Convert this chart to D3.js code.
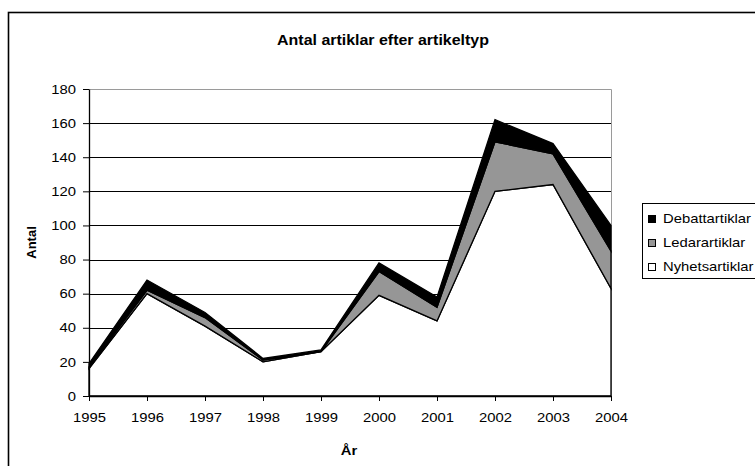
<!DOCTYPE html>
<html>
<head>
<meta charset="utf-8">
<script src="https://cdn.jsdelivr.net/npm/d3@7"></script>
<style>
  html, body { margin: 0; padding: 0; background: #fff; }
  svg { display: block; font-family: "Liberation Sans", Arial, sans-serif; }
</style>
</head>
<body>
<svg id="chart" width="755" height="466"></svg>
<script>
// Article counts per year, split by article type
const years = ["1995","1996","1997","1998","1999","2000","2001","2002","2003","2004"];
const nyhetsartiklar = [16, 60, 41, 20, 26, 59, 44, 120, 124, 63];
const ledarartiklar  = [1,  2,  5,  1,  0,  14, 8,  29,  18,  22];
const debattartiklar = [2,  6,  3,  1,  1,  5,  6,  13,  6,   15];
const yTicks = [0, 20, 40, 60, 80, 100, 120, 140, 160, 180];

const seriesNames = ["Nyhetsartiklar", "Ledarartiklar", "Debattartiklar"];
const seriesColors = { Nyhetsartiklar: "#ffffff", Ledarartiklar: "#969696", Debattartiklar: "#000000" };

// text is drawn slightly wide, like the rest of the chart
const SX = 1.14;

const rows = years.map((y, i) => ({
  year: y,
  Nyhetsartiklar: nyhetsartiklar[i],
  Ledarartiklar: ledarartiklar[i],
  Debattartiklar: debattartiklar[i]
}));

const svg = d3.select("#chart");

// outer chart frame
svg.append("rect")
  .attr("x", 8.5).attr("y", 12.5)
  .attr("width", 800).attr("height", 500)
  .attr("fill", "#fff").attr("stroke", "#000").attr("stroke-width", 1.6);

const plot = { left: 89, right: 611, top: 89, bottom: 396 };

const x = d3.scalePoint().domain(years).range([plot.left, plot.right]);
const y = d3.scaleLinear().domain([0, 180]).range([plot.bottom, plot.top]);

// plot area border (top and right)
svg.append("path")
  .attr("d", `M${plot.left},${plot.top + 0.5}H${plot.right + 0.5}V${plot.bottom}`)
  .attr("fill", "none").attr("stroke", "#9a9a9a").attr("stroke-width", 1);

// horizontal gridlines
svg.append("g").selectAll("line")
  .data(yTicks.filter(t => t > 0 && t < 180))
  .join("line")
  .attr("x1", plot.left).attr("x2", plot.right)
  .attr("y1", d => Math.round(y(d)) + 0.5).attr("y2", d => Math.round(y(d)) + 0.5)
  .attr("stroke", "#000").attr("stroke-width", 1);

// stacked areas
const stack = d3.stack().keys(seriesNames);
const layers = stack(rows);
const area = d3.area()
  .x(d => x(d.data.year))
  .y0(d => y(d[0]))
  .y1(d => y(d[1]));

svg.append("g").selectAll("path")
  .data(layers)
  .join("path")
  .attr("d", area)
  .attr("fill", d => seriesColors[d.key])
  .attr("stroke", "#000")
  .attr("stroke-width", 1.3)
  .attr("stroke-linejoin", "miter");

// y axis
const yAxis = svg.append("g")
  .attr("transform", `translate(${plot.left},0)`)
  .call(d3.axisLeft(y).tickValues(yTicks).tickSize(6).tickPadding(7).tickSizeOuter(0));
yAxis.select(".domain").attr("stroke", "#000").attr("stroke-width", 1.3);
yAxis.selectAll(".tick line").attr("stroke", "#000");
yAxis.selectAll("text")
  .attr("font-size", 13).attr("fill", "#000")
  .attr("font-family", "Liberation Sans, Arial, sans-serif")
  .attr("x", -13 / SX)
  .attr("transform", `scale(${SX},1)`);

// x axis
const xAxis = svg.append("g")
  .attr("transform", `translate(0,${plot.bottom})`)
  .call(d3.axisBottom(x).tickSize(5).tickPadding(12).tickSizeOuter(0));
xAxis.select(".domain").attr("stroke", "#000").attr("stroke-width", 1.3);
xAxis.selectAll(".tick line").attr("stroke", "#000");
xAxis.selectAll("text")
  .attr("font-size", 13).attr("fill", "#000")
  .attr("font-family", "Liberation Sans, Arial, sans-serif")
  .attr("transform", `scale(${SX},1)`);

// titles
svg.append("text")
  .attr("transform", `translate(383,45) scale(${SX},1)`)
  .attr("text-anchor", "middle")
  .attr("font-size", 14).attr("font-weight", "bold")
  .text("Antal artiklar efter artikeltyp");

svg.append("text")
  .attr("transform", `translate(349,455) scale(${SX},1)`)
  .attr("text-anchor", "middle")
  .attr("font-size", 13).attr("font-weight", "bold")
  .text("År");

svg.append("text")
  .attr("transform", `translate(36,${(plot.top + plot.bottom) / 2}) rotate(-90)`)
  .attr("text-anchor", "middle")
  .attr("font-size", 13).attr("font-weight", "bold")
  .text("Antal");

// legend
const legend = svg.append("g").attr("transform", "translate(642,203)");
legend.append("rect")
  .attr("x", 0.5).attr("y", 0.5).attr("width", 200).attr("height", 75)
  .attr("fill", "#fff").attr("stroke", "#000").attr("stroke-width", 1);

const legendOrder = ["Debattartiklar", "Ledarartiklar", "Nyhetsartiklar"];
const item = legend.selectAll("g.item")
  .data(legendOrder)
  .join("g")
  .attr("class", "item")
  .attr("transform", (d, i) => `translate(6,${20 + i * 24})`);
item.append("rect")
  .attr("x", 0.5).attr("y", -7.5).attr("width", 7).attr("height", 7)
  .attr("fill", d => seriesColors[d]).attr("stroke", "#000").attr("stroke-width", 1);
item.append("text")
  .attr("transform", `translate(15,0) scale(${SX},1)`)
  .attr("font-size", 13).attr("fill", "#000")
  .text(d => d);
</script>
</body>
</html>
